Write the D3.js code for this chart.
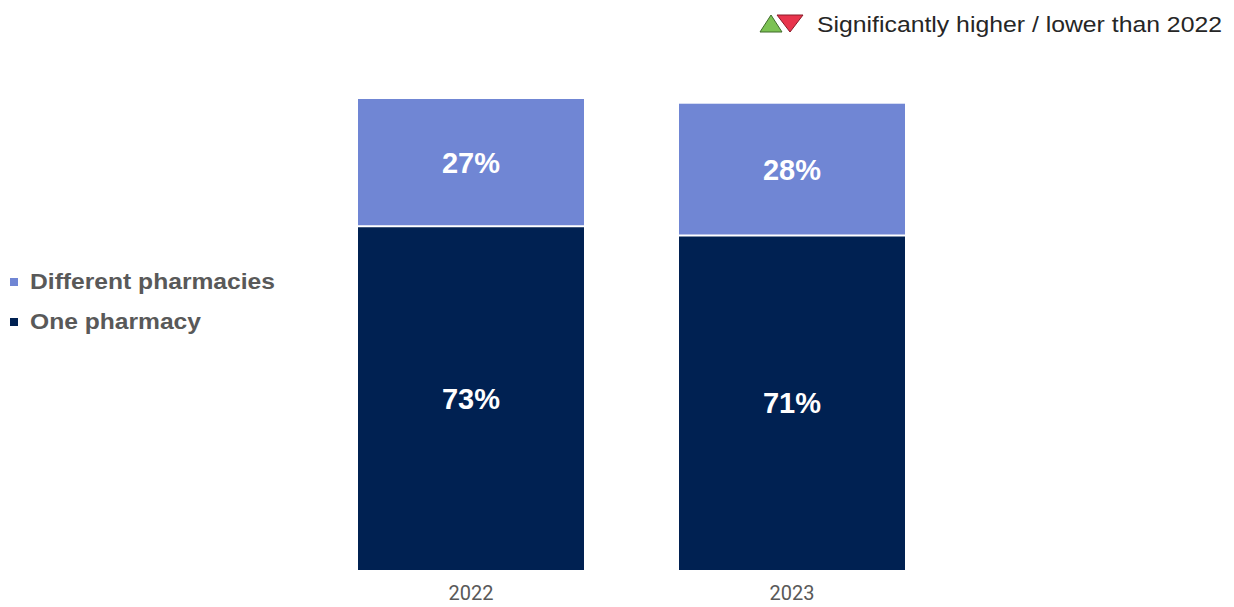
<!DOCTYPE html>
<html>
<head>
<meta charset="utf-8">
<script src="https://cdn.jsdelivr.net/npm/d3@7"></script>
<style>
  html, body { margin: 0; padding: 0; background: #ffffff; }
  svg { display: block; }
</style>
</head>
<body>
<svg id="chart" width="1234" height="607"></svg>
<script>
// Survey results: share using one pharmacy vs different pharmacies
const years = ["2022", "2023"];
const onePharmacy = [73, 71];
const differentPharmacies = [27, 28];
const seriesNames = ["One pharmacy", "Different pharmacies"];
const seriesColors = ["#002152", "#7086d4"];
const noteText = "Significantly higher / lower than 2022";

const svg = d3.select("#chart");

const x = d3.scaleBand()
  .domain(years)
  .range([358, 905])
  .paddingInner(0.296)
  .paddingOuter(0);

const y = d3.scaleLinear()
  .domain([0, 100])
  .range([570, 99]);

const rows = years.map((yr, i) => ({
  year: yr,
  "One pharmacy": onePharmacy[i],
  "Different pharmacies": differentPharmacies[i]
}));

const stacked = d3.stack().keys(seriesNames)(rows);
const color = d3.scaleOrdinal().domain(seriesNames).range(seriesColors);

const layers = svg.append("g").selectAll("g")
  .data(stacked)
  .join("g")
  .attr("fill", d => color(d.key));

layers.selectAll("rect")
  .data(d => d)
  .join("rect")
  .attr("x", d => x(d.data.year))
  .attr("width", x.bandwidth())
  .attr("y", d => y(d[1]))
  .attr("height", d => y(d[0]) - y(d[1]));

// white divider between the two segments
svg.append("g").selectAll("line")
  .data(stacked[0])
  .join("line")
  .attr("x1", d => x(d.data.year))
  .attr("x2", d => x(d.data.year) + x.bandwidth())
  .attr("y1", d => y(d[1]))
  .attr("y2", d => y(d[1]))
  .attr("stroke", "#ffffff")
  .attr("stroke-width", 2);

// value labels in each segment
stacked.forEach(layer => {
  svg.append("g").selectAll("text")
    .data(layer)
    .join("text")
    .attr("x", d => x(d.data.year) + x.bandwidth() / 2)
    .attr("y", d => (y(d[0]) + y(d[1])) / 2)
    .attr("dy", "0.36em")
    .attr("text-anchor", "middle")
    .attr("fill", "#ffffff")
    .attr("font-family", "Arial, 'Liberation Sans', sans-serif")
    .attr("font-weight", "bold")
    .attr("font-size", 29)
    .text(d => (d[1] - d[0]) + "%");
});

// category axis
const xAxis = svg.append("g")
  .attr("transform", "translate(0,570)")
  .call(d3.axisBottom(x).tickSize(0).tickPadding(16));
xAxis.select(".domain").remove();
xAxis.selectAll("text")
  .attr("font-family", "Roboto, Arial, sans-serif")
  .attr("font-size", 20)
  .attr("fill", "#595959");

// legend on the left
const legendItems = [
  { name: "Different pharmacies", color: color("Different pharmacies") },
  { name: "One pharmacy", color: color("One pharmacy") }
];
const legend = svg.append("g").selectAll("g")
  .data(legendItems)
  .join("g")
  .attr("transform", (d, i) => `translate(10,${289 + i * 40})`);
legend.append("rect")
  .attr("x", 0)
  .attr("y", -11)
  .attr("width", 8)
  .attr("height", 8)
  .attr("fill", d => d.color);
legend.append("text")
  .attr("x", 20)
  .attr("y", 0)
  .attr("font-family", "Arial, 'Liberation Sans', sans-serif")
  .attr("font-weight", "bold")
  .attr("font-size", 22)
  .attr("fill", "#595959")
  .attr("textLength", (d, i) => i === 0 ? 245 : 171)
  .attr("lengthAdjust", "spacingAndGlyphs")
  .text(d => d.name);

// significance note, top right
const note = svg.append("g");
note.append("path")
  .attr("d", "M760,32 L771,15 L782,32 Z")
  .attr("fill", "#7cc253")
  .attr("stroke", "#3f6b2a")
  .attr("stroke-width", 1);
note.append("path")
  .attr("d", "M777,15 L803,15 L790,32 Z")
  .attr("fill", "#e8344c")
  .attr("stroke", "#8a1a28")
  .attr("stroke-width", 1);
note.append("text")
  .attr("x", 817)
  .attr("y", 32)
  .attr("font-family", "Arial, 'Liberation Sans', sans-serif")
  .attr("font-size", 22)
  .attr("fill", "#262626")
  .attr("textLength", 405)
  .attr("lengthAdjust", "spacingAndGlyphs")
  .text(noteText);
</script>
</body>
</html>
